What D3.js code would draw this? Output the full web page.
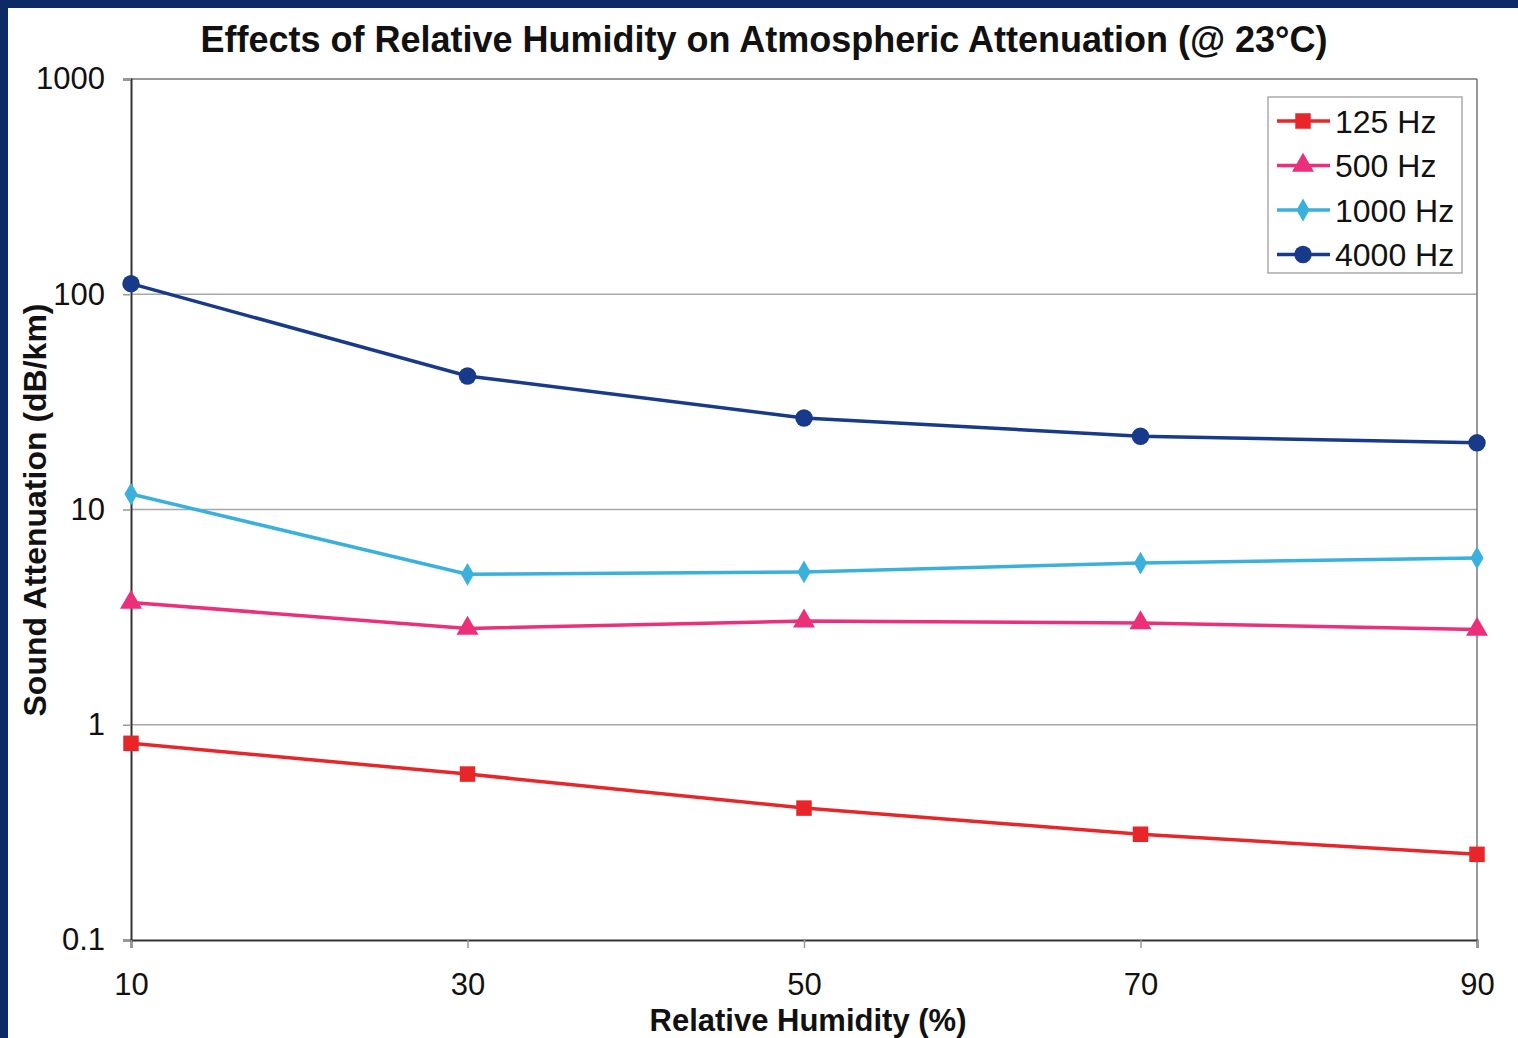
<!DOCTYPE html>
<html>
<head>
<meta charset="utf-8">
<script src="https://cdn.jsdelivr.net/npm/d3@7"></script>
<style>
  html, body { margin: 0; padding: 0; background: #fff; }
  svg { display: block; font-family: "Liberation Sans", Arial, sans-serif; }
</style>
</head>
<body>
<div id="chart"></div>
<script>
// DATA
const humidity = [10, 30, 50, 70, 90];
const xTicks = [10, 30, 50, 70, 90];
const yTicks = [0.1, 1, 10, 100, 1000];
const seriesNames = ["125 Hz", "500 Hz", "1000 Hz", "4000 Hz"];
const hz125 = [0.82, 0.59, 0.41, 0.31, 0.25];
const hz500 = [3.7, 2.8, 3.03, 2.97, 2.77];
const hz1000 = [11.8, 5.0, 5.13, 5.64, 5.96];
const hz4000 = [112, 41.7, 26.6, 21.9, 20.4];

// CONFIG
const width = 1518, height = 1038;
const plot = { left: 131, right: 1477, top: 79, bottom: 940 };
const COLORS = ["#e8262a", "#ec2f7a", "#3ab0dc", "#173a8a"];
const SYMBOLS = [d3.symbolSquare, d3.symbolTriangle, d3.symbolDiamond, d3.symbolCircle];
const SIZES = [240, 210, 150, 240];

const series = [hz125, hz500, hz1000, hz4000].map((vals, i) => ({
    name: seriesNames[i],
    color: COLORS[i],
    symbol: SYMBOLS[i],
    size: SIZES[i],
    values: vals.map((v, j) => ({ x: humidity[j], y: v }))
}));

const svg = d3.select("#chart").append("svg")
    .attr("width", width)
    .attr("height", height);

// Frame (navy border on top and left)
svg.append("rect").attr("width", width).attr("height", height).attr("fill", "#fff");
svg.append("rect").attr("x", 0).attr("y", 0).attr("width", width).attr("height", 8).attr("fill", "#0c2a63");
svg.append("rect").attr("x", 0).attr("y", 0).attr("width", 8).attr("height", height).attr("fill", "#0c2a63");

// SCALES
const x = d3.scaleLinear().domain([10, 90]).range([plot.left, plot.right]);
const y = d3.scaleLog().domain([0.1, 1000]).range([plot.bottom, plot.top]);

// Gridlines
svg.append("g")
    .selectAll("line")
    .data(yTicks.slice(1, -1))
    .join("line")
    .attr("x1", plot.left).attr("x2", plot.right)
    .attr("y1", d => y(d)).attr("y2", d => y(d))
    .attr("stroke", "#a8a8a8").attr("stroke-width", 1.5);

// Plot border
svg.append("line").attr("x1", plot.left).attr("x2", plot.right).attr("y1", plot.top).attr("y2", plot.top)
    .attr("stroke", "#777").attr("stroke-width", 1.5);
svg.append("line").attr("x1", plot.right).attr("x2", plot.right).attr("y1", plot.top).attr("y2", plot.bottom)
    .attr("stroke", "#777").attr("stroke-width", 1.5);

// AXES
const yAxis = svg.append("g")
    .attr("transform", `translate(${plot.left},0)`)
    .call(d3.axisLeft(y).tickValues(yTicks).tickFormat(d3.format("~g")).tickSize(8).tickPadding(18));
const xAxis = svg.append("g")
    .attr("transform", `translate(0,${plot.bottom})`)
    .call(d3.axisBottom(x).tickValues(xTicks).tickFormat(d3.format("d")).tickSize(8).tickPadding(25));

[yAxis, xAxis].forEach(a => {
    a.select(".domain").attr("stroke", "#333").attr("stroke-width", 2);
    a.selectAll(".tick line").attr("stroke", "#999").attr("stroke-width", 1.5);
    a.selectAll(".tick text").attr("fill", "#111").style("font-size", "31px");
});

// LINES
const line = d3.line().x(d => x(d.x)).y(d => y(d.y));

const g = svg.append("g");
series.forEach(s => {
    g.append("path")
        .datum(s.values)
        .attr("fill", "none")
        .attr("stroke", s.color)
        .attr("stroke-width", 3.5)
        .attr("d", line);
    g.selectAll(null)
        .data(s.values)
        .join("path")
        .attr("transform", d => `translate(${x(d.x)},${y(d.y)})`)
        .attr("d", d3.symbol().type(s.symbol).size(s.size))
        .attr("fill", s.color);
});

// TITLES
svg.append("text")
    .attr("x", 764).attr("y", 52)
    .attr("text-anchor", "middle")
    .style("font-size", "36px").style("font-weight", "bold").attr("fill", "#111")
    .text("Effects of Relative Humidity on Atmospheric Attenuation (@ 23°C)");

svg.append("text")
    .attr("x", 808).attr("y", 1031)
    .attr("text-anchor", "middle")
    .style("font-size", "31px").style("font-weight", "bold").attr("fill", "#111")
    .text("Relative Humidity (%)");

svg.append("text")
    .attr("transform", "translate(46,510) rotate(-90)")
    .attr("text-anchor", "middle")
    .style("font-size", "32px").style("font-weight", "bold").attr("fill", "#111")
    .text("Sound Attenuation (dB/km)");

// LEGEND
const legend = svg.append("g").attr("transform", "translate(1268,97)");
legend.append("rect")
    .attr("width", 194).attr("height", 176)
    .attr("fill", "#fff").attr("stroke", "#aaa").attr("stroke-width", 1.5);

const item = legend.selectAll("g.item")
    .data(series)
    .join("g")
    .attr("class", "item")
    .attr("transform", (d, i) => `translate(0,${24 + i * 44.5})`);
item.append("line")
    .attr("x1", 9).attr("x2", 62)
    .attr("stroke", d => d.color).attr("stroke-width", 3.5);
item.append("path")
    .attr("transform", "translate(35,0)")
    .attr("d", d => d3.symbol().type(d.symbol).size(d.size)())
    .attr("fill", d => d.color);
item.append("text")
    .attr("x", 67).attr("dy", "0.36em")
    .style("font-size", "32px").attr("fill", "#111")
    .text(d => d.name);
</script>
</body>
</html>
